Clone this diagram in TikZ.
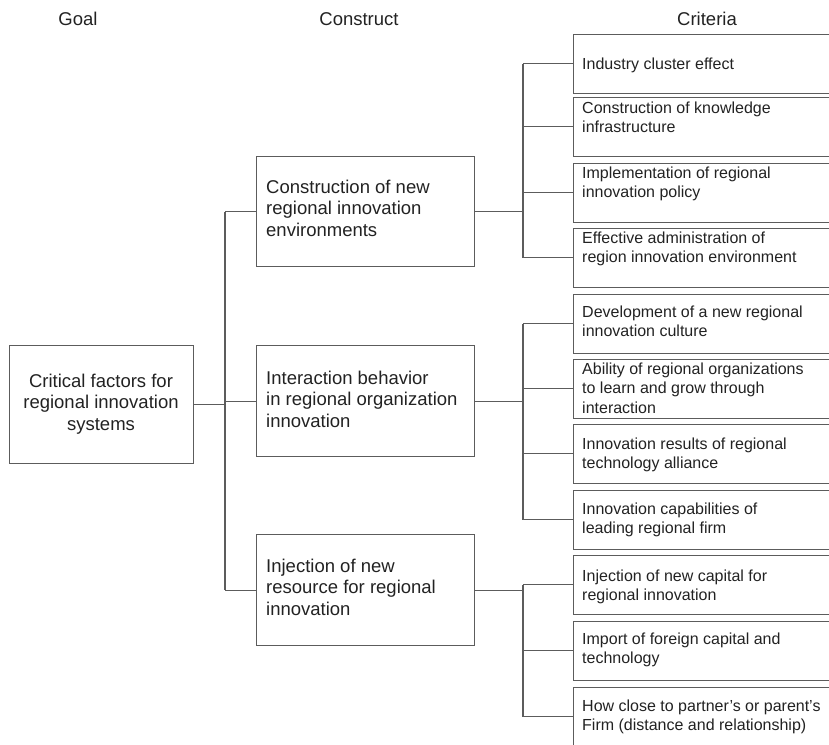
\documentclass[tikz,border=0pt]{standalone}
\usepackage{fontspec}
\setmainfont{Liberation Sans}
\definecolor{ln}{HTML}{5C5C5C}
\definecolor{tx}{HTML}{222222}
\begin{document}
\begin{tikzpicture}[x=1pt,y=-1pt,
 box/.style={draw=ln, line width=1.1pt, rectangle, inner sep=0pt, anchor=north west},
 critbox/.style={box, minimum width=290pt, minimum height=58.5pt},
 consbox/.style={box, minimum width=218pt},
 conn/.style={draw=ln, line width=1.1pt},
 crit/.style={font=\fontsize{16}{19.5}\selectfont, text=tx, align=left, anchor=north west, inner sep=0pt},
 cons/.style={font=\fontsize{18.5}{21.5}\selectfont, text=tx, align=left, anchor=north west, inner sep=0pt},
 head/.style={font=\fontsize{18.5}{21.5}\selectfont, text=tx, anchor=base, inner sep=0pt}]
\useasboundingbox (0,0) rectangle (829,744);
\clip (0,0) rectangle (829,744);

% headers
\node[head] (hg) at (78,25.5) {Goal};
\node[head] (hc) at (359,25.5) {Construct};
\node[head] (hk) at (707,25.5) {Criteria};

% goal
\node[box, minimum width=184pt, minimum height=118pt] (g) at (9,345) {};
\node[cons, align=center, anchor=north] (gt) at (101,371.8) {\strut Critical factors for\\regional innovation\\systems};

% constructs
\node[consbox, minimum height=110pt] (c1) at (256,156) {};
\node[consbox, minimum height=111pt] (c2) at (256,345) {};
\node[consbox, minimum height=111pt] (c3) at (256,534) {};
\node[cons] (c1t) at (266,177.8) {\strut Construction of new\\regional innovation\\environments};
\node[cons] (c2t) at (266,368.8) {\strut Interaction behavior\\in regional organization\\innovation};
\node[cons] (c3t) at (266,556.8) {\strut Injection of new\\resource for regional\\innovation};

% criteria boxes
\node[critbox] (r1) at (573,34) {};
\node[critbox] (r2) at (573,97) {};
\node[critbox] (r3) at (573,163) {};
\node[critbox] (r4) at (573,228) {};
\node[critbox] (r5) at (573,294) {};
\node[critbox] (r6) at (573,359) {};
\node[critbox] (r7) at (573,424) {};
\node[critbox] (r8) at (573,490) {};
\node[critbox] (r9) at (573,555) {};
\node[critbox] (r10) at (573,621) {};
\node[critbox] (r11) at (573,687) {};

% criteria texts
\node[crit] (t1) at (582,55.5) {\strut Industry cluster effect};
\node[crit] (t2) at (582,99.5) {\strut Construction of knowledge\\infrastructure};
\node[crit] (t3) at (582,164.5) {\strut Implementation of regional\\innovation policy};
\node[crit] (t4) at (582,229.5) {\strut Effective administration of\\region innovation environment};
\node[crit] (t5) at (582,303.5) {\strut Development of a new regional\\innovation culture};
\node[crit] (t6) at (582,360.5) {\strut Ability of regional organizations\\to learn and grow through\\interaction};
\node[crit] (t7) at (582,435.5) {\strut Innovation results of regional\\technology alliance};
\node[crit] (t8) at (582,500.5) {\strut Innovation capabilities of\\leading regional firm};
\node[crit] (t9) at (582,567.5) {\strut Injection of new capital for\\regional innovation};
\node[crit] (t10) at (582,630.5) {\strut Import of foreign capital and\\technology};
\node[crit] (t11) at (582,697.5) {\strut How close to partner’s or parent’s\\Firm (distance and relationship)};

% connectors goal -> constructs
\coordinate (gx) at (225,0);
\draw[conn] (g.east) -- (g.east -| gx);
\draw[conn] (c1.west -| gx) -- (c3.west -| gx);
\foreach \i in {1,2,3} \draw[conn] (c\i.west -| gx) -- (c\i.west);

% connectors constructs -> criteria
\coordinate (kx) at (523,0);
\draw[conn] (c1.east) -- (c1.east -| kx);
\draw[conn] (r1.west -| kx) -- (r4.west -| kx);
\foreach \i in {1,2,3,4} \draw[conn] (r\i.west -| kx) -- (r\i.west);
\draw[conn] (c2.east) -- (c2.east -| kx);
\draw[conn] (r5.west -| kx) -- (r8.west -| kx);
\foreach \i in {5,6,7,8} \draw[conn] (r\i.west -| kx) -- (r\i.west);
\draw[conn] (c3.east) -- (c3.east -| kx);
\draw[conn] (r9.west -| kx) -- (r11.west -| kx);
\foreach \i in {9,10,11} \draw[conn] (r\i.west -| kx) -- (r\i.west);
\end{tikzpicture}
\end{document}
